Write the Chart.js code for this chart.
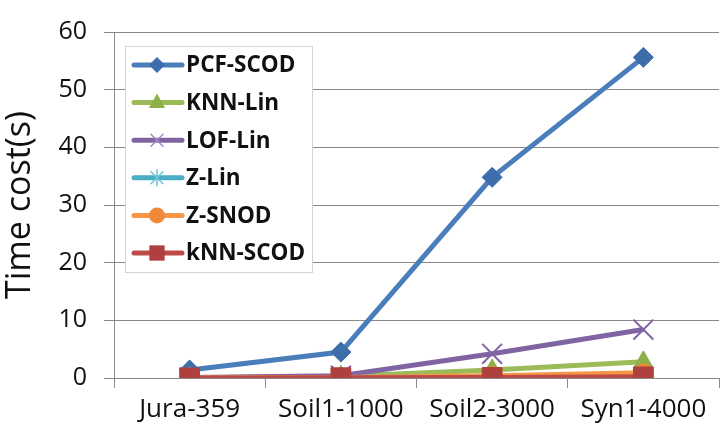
<!DOCTYPE html>
<html><head><meta charset="utf-8">
<script src="https://cdn.jsdelivr.net/npm/chart.js@4/dist/chart.umd.min.js"></script>
<style>
html,body{margin:0;padding:0;overflow:hidden;background:#fff;width:725px;height:429px}
#wrap{position:absolute;left:0;top:0;width:735px;height:429px}
</style></head>
<body>
<div id="wrap"><canvas id="c" width="735" height="429"></canvas></div>
<script>
const categories = ['Jura-359', 'Soil1-1000', 'Soil2-3000', 'Syn1-4000'];
const seriesNames = ['PCF-SCOD', 'KNN-Lin', 'LOF-Lin', 'Z-Lin', 'Z-SNOD', 'kNN-SCOD'];
const pcfScod = [1.4, 4.5, 34.8, 55.6];
const knnLin = [0.05, 0.3, 1.4, 2.8];
const lofLin = [0.1, 0.4, 4.2, 8.4];
const zLin = [0.05, 0.1, 0.3, 0.6];
const zSnod = [0.05, 0.1, 0.4, 0.9];
const knnScod = [0.02, 0.05, 0.1, 0.2];
const yTicks = [0, 10, 20, 30, 40, 50, 60];

const FONT = '"Open Sans", "Liberation Sans", sans-serif';
const colors = ['#4A7EBB', '#9BBB59', '#8064A2', '#4BACC6', '#F79646', '#BE4B48'];
const markerColors = ['#3D6DAB', '#8DB04A', '#8064A2', '#4BACC6', '#F08A3A', '#B0403D'];
const legendMarkerColors = ['#3D6DAB', '#8DB04A', '#A08CC8', '#6CC4DA', '#F08A3A', '#B0403D'];
const styles = ['rectRot', 'triangle', 'crossRot', 'star', 'circle', 'rect'];
const radii = [10, 11, 14, 10, 9, 14];
const values = [pcfScod, knnLin, lofLin, zLin, zSnod, knnScod];

const datasets = seriesNames.map((n, i) => ({
  label: n,
  data: values[i],
  borderColor: colors[i],
  backgroundColor: markerColors[i],
  pointBorderColor: markerColors[i],
  pointBackgroundColor: markerColors[i],
  pointStyle: styles[i],
  pointRadius: radii[i],
  pointBorderWidth: (styles[i] === 'crossRot' || styles[i] === 'star') ? 2 : 1,
  borderWidth: 5,
  tension: 0,
  order: 6 - i
}));

function drawMarker(ctx, style, x, y, r, color) {
  ctx.save();
  ctx.fillStyle = color; ctx.strokeStyle = color; ctx.lineWidth = 1.5;
  ctx.beginPath();
  if (style === 'rectRot') {
    ctx.moveTo(x, y - r); ctx.lineTo(x + r, y); ctx.lineTo(x, y + r); ctx.lineTo(x - r, y); ctx.closePath(); ctx.fill();
  } else if (style === 'triangle') {
    ctx.moveTo(x, y - r); ctx.lineTo(x + r * 0.9, y + r * 0.6); ctx.lineTo(x - r * 0.9, y + r * 0.6); ctx.closePath(); ctx.fill();
  } else if (style === 'crossRot') {
    const d = r * 0.75;
    ctx.moveTo(x - d, y - d); ctx.lineTo(x + d, y + d); ctx.moveTo(x + d, y - d); ctx.lineTo(x - d, y + d); ctx.stroke();
  } else if (style === 'star') {
    const d = r * 0.75;
    ctx.moveTo(x - d, y - d); ctx.lineTo(x + d, y + d); ctx.moveTo(x + d, y - d); ctx.lineTo(x - d, y + d);
    ctx.moveTo(x, y - r); ctx.lineTo(x, y + r); ctx.stroke();
  } else if (style === 'circle') {
    ctx.arc(x, y, r, 0, Math.PI * 2); ctx.fill();
  } else {
    ctx.rect(x - r * 0.85, y - r * 0.85, r * 1.7, r * 1.7); ctx.fill();
  }
  ctx.restore();
}

const legendPlugin = {
  id: 'boxLegend',
  afterDraw(chart) {
    const ctx = chart.ctx;
    const a = chart.chartArea;
    const bx = a.left + 11, by = a.top + 14, bw = 187, bh = 226;
    ctx.save();
    ctx.fillStyle = '#fff'; ctx.fillRect(bx, by, bw, bh);
    ctx.strokeStyle = '#d4d4d4'; ctx.lineWidth = 1; ctx.strokeRect(bx + 0.5, by + 0.5, bw, bh);
    ctx.font = 'bold 22.5px ' + FONT;
    ctx.textBaseline = 'middle';
    seriesNames.forEach((n, i) => {
      const y = by + 19 + i * 37.6;
      ctx.strokeStyle = colors[i]; ctx.lineWidth = 5; ctx.lineCap = 'round';
      ctx.beginPath(); ctx.moveTo(bx + 9, y); ctx.lineTo(bx + 57, y); ctx.stroke();
      drawMarker(ctx, styles[i], bx + 32, y, [8, 9, 8, 8, 8, 9][i], legendMarkerColors[i]);
      ctx.fillStyle = '#111';
      ctx.fillText(n, bx + 61, y + 1);
    });
    ctx.restore();
  }
};

new Chart(document.getElementById('c'), {
  type: 'line',
  data: { labels: categories, datasets },
  plugins: [legendPlugin],
  options: {
    responsive: false,
    animation: false,
    layout: { padding: { top: 27, right: 0, left: 0, bottom: 0 } },
    plugins: { legend: { display: false }, tooltip: { enabled: false } },
    scales: {
      x: {
        offset: true,
        grid: { offset: true, drawOnChartArea: false, drawTicks: true, tickLength: 10, color: '#8a8a8a' },
        border: { color: '#8a8a8a', width: 1 },
        ticks: { font: { family: FONT, size: 26 }, color: '#111', padding: 6, maxRotation: 0 },
        afterFit(s) { s.height = 51; }
      },
      y: {
        min: 0, max: 60,
        afterBuildTicks(s) { s.ticks = yTicks.map(v => ({ value: v })); },
        grid: { color: '#8a8a8a', drawTicks: true, tickLength: 10 },
        border: { color: '#8a8a8a', width: 1 },
        ticks: { font: { family: FONT, size: 25 }, color: '#111', padding: 17 },
        title: { display: true, text: 'Time cost(s)', font: { family: FONT, size: 34 }, color: '#111', padding: 0 },
        afterFit(s) { s.width = 114; }
      }
    }
  }
});
</script>
</body></html>
